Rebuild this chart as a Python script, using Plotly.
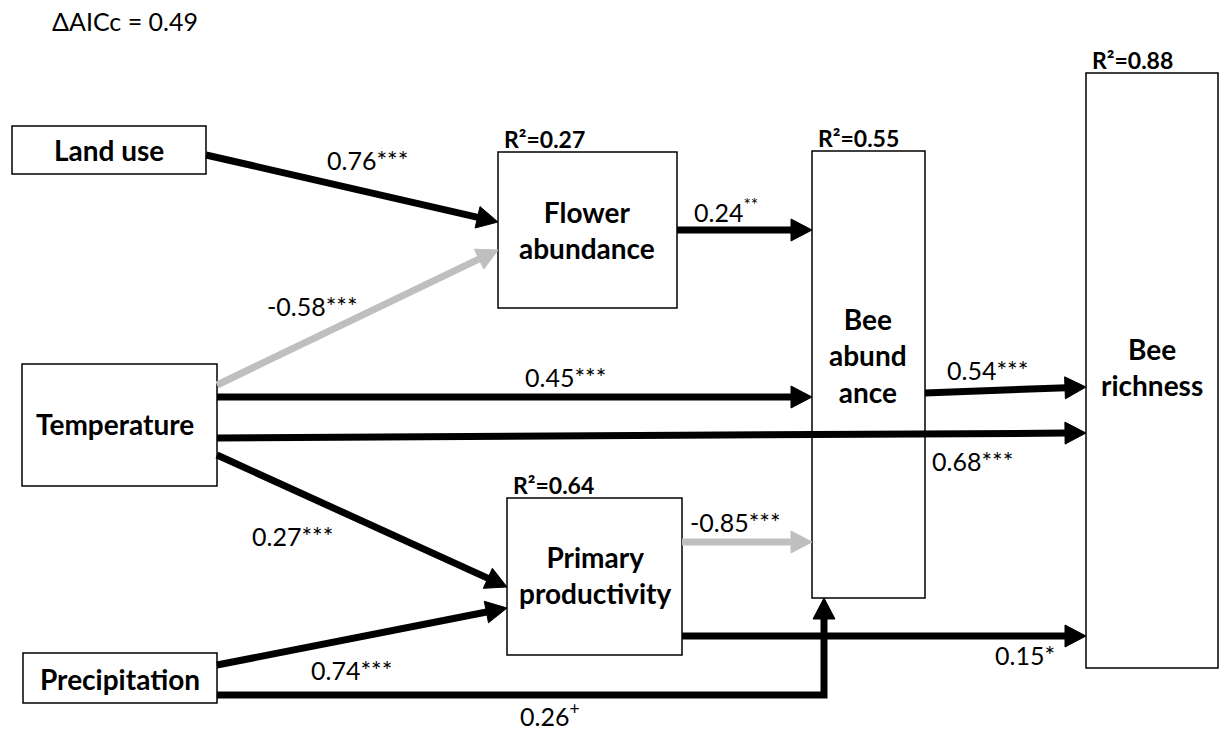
import math
import plotly.graph_objects as go

# ---- model content ----
node_ids = ["land", "temp", "prec", "flower", "prim", "beeab", "beerich"]
node_labels = ["Land use", "Temperature", "Precipitation", "Flower<br>abundance",
               "Primary<br>productivity", "Bee<br>abund<br>ance", "Bee<br>richness"]
node_r2 = [None, None, None, 0.27, 0.64, 0.55, 0.88]

edge_from = ["land", "temp", "temp", "temp", "temp", "prec", "prec", "flower", "prim", "beeab", "prim"]
edge_to = ["flower", "flower", "beeab", "beerich", "prim", "prim", "beeab", "beeab", "beeab", "beerich", "beerich"]
edge_coef = [0.76, -0.58, 0.45, 0.68, 0.27, 0.74, 0.26, 0.24, -0.85, 0.54, 0.15]
edge_sig = ["***", "***", "***", "***", "***", "***", "<sup>+</sup>", "<sup>**</sup>", "***", "***", "*"]

delta_aicc = 0.49

# ---- diagram geometry (pixel space, y pointing down) ----
W, H = 1224, 731
boxes = {
    "land": (12, 126, 206, 174),
    "temp": (22, 364, 217, 486),
    "prec": (23, 653, 217, 703),
    "flower": (498, 152, 677, 308),
    "prim": (507, 498, 682, 655),
    "beeab": (812, 151, 925, 598),
    "beerich": (1086, 73, 1218, 668),
}
label_pos = {
    "land": (109, 150), "temp": (115, 424), "prec": (120, 679),
    "flower": (587, 230), "prim": (595, 575), "beeab": (868, 355), "beerich": (1152, 367),
}
routes = [
    [(206, 155), (498, 222)],
    [(217, 385), (498, 250)],
    [(217, 397), (812, 397)],
    [(217, 438), (1086, 433)],
    [(217, 455), (507, 587)],
    [(217, 665), (507, 608)],
    [(217, 695), (824, 695), (824, 598)],
    [(677, 230), (812, 230)],
    [(682, 542), (812, 542)],
    [(925, 393), (1086, 387)],
    [(682, 636), (1086, 636)],
]
coef_pos = [(367, 160), (312, 306), (565, 377), (972, 461), (292, 536), (351, 670),
            (550, 714), (726, 210), (735, 522), (987, 370), (1025, 655)]

FONT = "Lato"
BLACK = "#000000"
GREY = "#bfbfbf"
LINE_W = 7
HEAD_L, HEAD_HW = 21, 11

shapes = []
annotations = []

# boxes first so the paths crossing them stay visible
for nid in node_ids:
    x0, y0, x1, y1 = boxes[nid]
    shapes.append(dict(type="rect", x0=x0, y0=y0, x1=x1, y1=y1, xref="x", yref="y",
                       line=dict(color=BLACK, width=1.5), fillcolor="white", layer="above"))


def arrow(points, color):
    (ax, ay), (bx, by) = points[-2], points[-1]
    dx, dy = bx - ax, by - ay
    d = math.hypot(dx, dy)
    ux, uy = dx / d, dy / d
    nx, ny = -uy, ux
    basex, basey = bx - HEAD_L * ux, by - HEAD_L * uy
    pts = list(points[:-1]) + [(basex + 1.5 * ux, basey + 1.5 * uy)]
    path = "M" + " L".join(f"{px:.1f},{py:.1f}" for px, py in pts)
    shapes.append(dict(type="path", path=path, xref="x", yref="y",
                       line=dict(color=color, width=LINE_W), layer="above"))
    head = (f"M{bx:.1f},{by:.1f} L{basex + HEAD_HW * nx:.1f},{basey + HEAD_HW * ny:.1f} "
            f"L{basex - HEAD_HW * nx:.1f},{basey - HEAD_HW * ny:.1f} Z")
    shapes.append(dict(type="path", path=head, xref="x", yref="y", fillcolor=color,
                       line=dict(color=color, width=1), layer="above"))


for i, coef in enumerate(edge_coef):
    color = GREY if coef < 0 else BLACK
    arrow(routes[i], color)
    cx, cy = coef_pos[i]
    annotations.append(dict(x=cx, y=cy, xref="x", yref="y", text=f"{coef:.2f}{edge_sig[i]}",
                            showarrow=False, font=dict(family=FONT, size=25, color=BLACK)))

for nid, lab, r2 in zip(node_ids, node_labels, node_r2):
    cx, cy = label_pos[nid]
    annotations.append(dict(x=cx, y=cy, xref="x", yref="y", text=f"<b>{lab}</b>",
                            showarrow=False, font=dict(family=FONT, size=28, color=BLACK)))
    if r2 is not None:
        x0, y0, _, _ = boxes[nid]
        annotations.append(dict(x=x0 + 4, y=y0 + 3, xref="x", yref="y", xanchor="left",
                                yanchor="bottom", text=f"<b>R²={r2:.2f}</b>", showarrow=False,
                                font=dict(family=FONT, size=23, color=BLACK)))

annotations.append(dict(x=50, y=21, xref="x", yref="y", xanchor="left", showarrow=False,
                        text=f"ΔAICc = {delta_aicc:.2f}",
                        font=dict(family=FONT, size=25, color=BLACK)))

fig = go.Figure()
fig.update_layout(
    width=W, height=H, margin=dict(l=0, r=0, t=0, b=0),
    paper_bgcolor="white", plot_bgcolor="white",
    xaxis=dict(range=[0, W], visible=False, fixedrange=True),
    yaxis=dict(range=[H, 0], visible=False, fixedrange=True),
    shapes=shapes, annotations=annotations, showlegend=False,
)
fig.write_html("out.html")
